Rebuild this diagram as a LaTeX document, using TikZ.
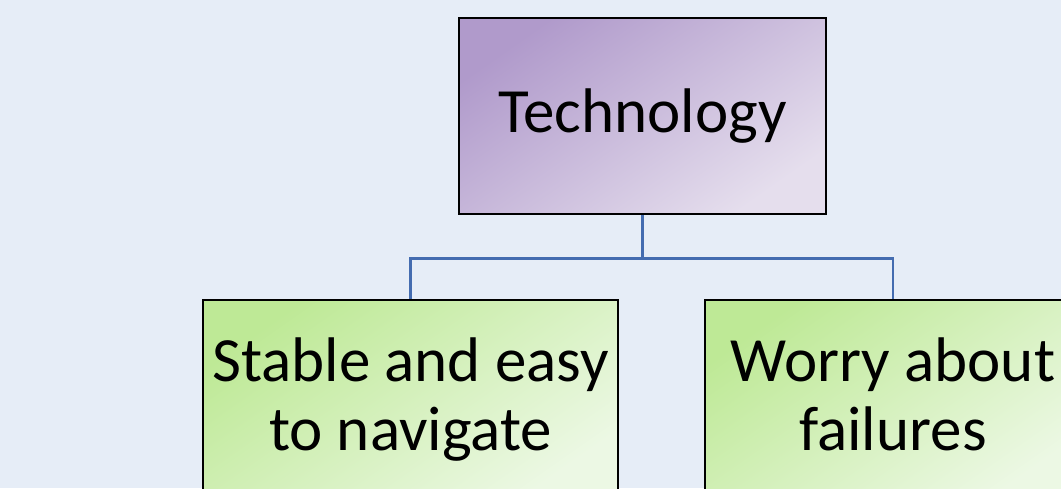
\documentclass[tikz,border=0pt]{standalone}
\usepackage{fontspec}
\setmainfont{Carlito}
\usetikzlibrary{shapes}
\usetikzlibrary{positioning}

\definecolor{bgblue}{RGB}{230,237,247}
\definecolor{purpledark}{RGB}{176,154,203}
\definecolor{purplelight}{RGB}{229,222,237}
\definecolor{greendark}{RGB}{190,233,150}
\definecolor{greenlight}{RGB}{236,248,228}
\definecolor{linkblue}{RGB}{68,108,176}

\tikzset{
  topbox/.style={rectangle,draw,line width=2.5pt,top color=purpledark,bottom color=purplelight,shading angle=35,minimum width=367pt,minimum height=196pt,align=center,font=\fontsize{63}{69}\selectfont},
  childbox/.style={rectangle,draw,line width=2.5pt,top color=greendark,bottom color=greenlight,shading angle=35,minimum height=200pt,align=center,inner sep=0pt,font=\fontsize{63}{69}\selectfont},
  link/.style={linkblue,line width=2.5pt}
}

\begin{document}
\begin{tikzpicture}[x=1pt,y=-1pt]
\useasboundingbox (0,0) rectangle (1061,488);
\clip (0,0) rectangle (1061,488);
\fill[bgblue] (0,0) rectangle (1061,488);

\node[topbox] (tech) at (642.5,116){Technology};

\node[childbox,minimum width=415pt] (stable) at (410.5,400){Stable and easy\\to navigate};

\node[childbox,minimum width=376pt] (worry) at (893,400){Worry about\\failures\vphantom{g}};

\draw[link] (tech.south) -- ++(0,43) -| (stable.north);
\draw[link] (tech.south) -- ++(0,43) -| (worry.north);

\end{tikzpicture}
\end{document}
